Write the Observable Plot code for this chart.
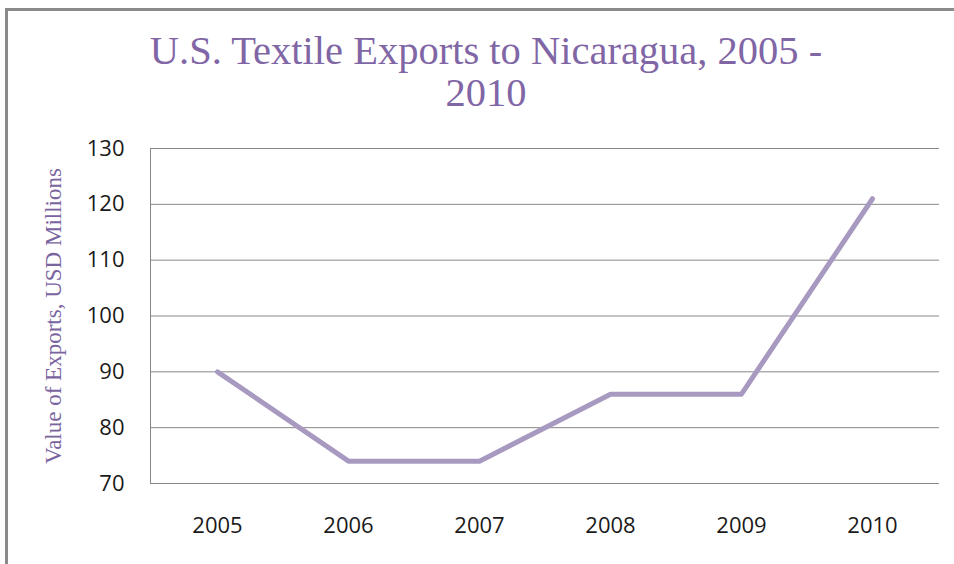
<!DOCTYPE html>
<html>
<head>
<meta charset="utf-8">
<script src="https://cdn.jsdelivr.net/npm/d3@7"></script>
<script src="https://cdn.jsdelivr.net/npm/@observablehq/plot@0.6"></script>
<style>
  html, body { margin: 0; padding: 0; background: #fff; }
  body { width: 954px; height: 564px; overflow: hidden; position: relative; }
  #border { position: absolute; left: 5px; top: 8px; width: 1000px; height: 1000px;
    border-top: 3px solid #8a8a8a; border-left: 3px solid #8a8a8a; box-sizing: border-box; }
  #title { position: absolute; left: 0; top: 30px; width: 972px; text-align: center;
    font-family: "Liberation Serif", serif; font-size: 40.5px; line-height: 42px; color: #8066a5; }
  #chart { position: absolute; left: 0; top: 130px; }
</style>
</head>
<body>
<div id="border"></div>
<div id="title">U.S. Textile Exports to Nicaragua, 2005 -<br>2010</div>
<div id="chart"></div>
<script>
const years = ["2005", "2006", "2007", "2008", "2009", "2010"];
const values = [90, 74, 74, 86, 86, 121];
const yTicks = [70, 80, 90, 100, 110, 120, 130];
const yLabel = "Value of Exports, USD Millions";

const data = years.map((year, i) => ({year, value: values[i]}));

const chart = Plot.plot({
  width: 954,
  height: 434,
  marginTop: 18,
  marginRight: 15,
  marginBottom: 81,
  marginLeft: 150,
  style: {fontFamily: "'Open Sans', sans-serif", color: "#1a1a1a", background: "transparent", overflow: "visible"},
  x: {type: "point", domain: years, padding: 0.5, label: null},
  y: {domain: [70, 130], label: null},
  marks: [
    Plot.gridY(yTicks, {stroke: "#878787", strokeOpacity: 1}),
    Plot.frame({anchor: "left", stroke: "#878787"}),
    Plot.ruleY([70], {stroke: "#878787"}),
    Plot.axisY(yTicks, {tickSize: 0, tickPadding: 26, fontSize: 22, label: null}),
    Plot.axisX({tickSize: 0, tickPadding: 34, fontSize: 22, label: null}),
    Plot.lineY(data, {x: "year", y: "value", stroke: "#a899c0", strokeWidth: 5}),
    Plot.text([yLabel], {frameAnchor: "left", textAnchor: "middle", rotate: -90, dx: -97, fontFamily: "'Liberation Serif', serif", fontSize: 23, fill: "#7a64a0"})
  ]
});
document.getElementById("chart").appendChild(chart);
</script>
</body>
</html>
